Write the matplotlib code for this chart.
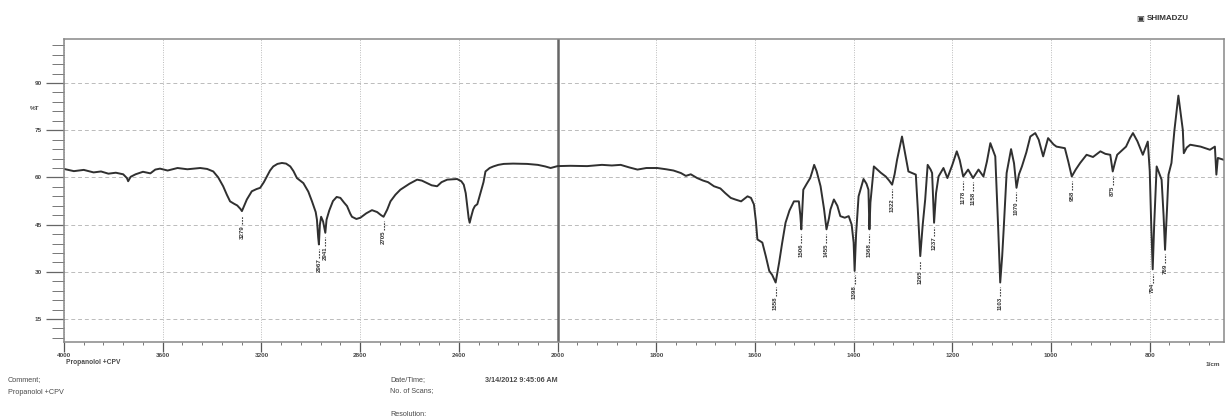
import numpy as np
import matplotlib.pyplot as plt

# FTIR spectrum (Shimadzu style), wavenumber in 1/cm, transmittance in %T
wavenumber = [
    4000, 3960, 3920, 3880, 3850, 3820, 3790, 3760, 3745, 3740, 3730, 3710,
    3680, 3650, 3630, 3611, 3580, 3540, 3500, 3448, 3420, 3395, 3375, 3355,
    3340, 3327, 3310, 3298, 3285, 3279, 3270, 3259, 3239, 3220, 3205, 3190,
    3178, 3165, 3152, 3135, 3117, 3100, 3083, 3070, 3056, 3030, 3010, 2995,
    2980, 2975, 2970, 2967, 2963, 2958, 2950, 2941, 2936, 2925, 2910, 2895,
    2880, 2865, 2853, 2840, 2833, 2815, 2799, 2775, 2752, 2731, 2715, 2705,
    2690, 2677, 2657, 2637, 2600, 2569, 2550, 2529, 2510, 2488, 2470, 2447,
    2407, 2390, 2380, 2372, 2366, 2360, 2356, 2350, 2342, 2335, 2325, 2312,
    2300, 2292, 2275, 2260, 2240, 2218, 2180, 2123, 2080, 2050, 2028, 2010,
    2000, 1974, 1940, 1910, 1890, 1872, 1855, 1838, 1820, 1798, 1780, 1765,
    1750, 1740, 1730, 1717, 1705, 1695, 1683, 1670, 1660, 1649, 1640, 1628,
    1615, 1608, 1602, 1598, 1595, 1585, 1578, 1571, 1565, 1558, 1551, 1545,
    1538, 1530, 1521, 1511, 1508, 1506, 1504, 1502, 1495, 1488, 1484, 1480,
    1475, 1467, 1460, 1455, 1450, 1447, 1440, 1433, 1427, 1418, 1410, 1404,
    1400, 1398, 1395, 1390, 1380, 1374, 1370, 1368, 1366, 1359, 1345, 1335,
    1328, 1322, 1317, 1312, 1302, 1295, 1289, 1274, 1270, 1265, 1260, 1255,
    1250, 1244, 1241, 1237, 1233, 1228, 1218, 1210, 1200, 1191, 1185, 1178,
    1168, 1158, 1147, 1137, 1130, 1123, 1113, 1107, 1103, 1099, 1096, 1090,
    1081, 1075, 1070, 1065, 1059, 1050, 1042, 1032, 1025, 1016, 1006, 995,
    989, 972, 965, 958, 950, 941, 928, 915, 900, 890, 880, 875,
    870, 866, 848, 840, 834, 825, 814, 804, 800, 797, 794, 791,
    786, 776, 772, 769, 765, 762, 756, 750, 742, 737, 733, 731,
    725, 718, 697, 678, 668, 665, 662, 650,
]
transmittance = [
    62.7, 62.0, 62.4, 61.6, 61.9, 61.2, 61.5, 61.0, 59.8, 58.8, 60.2, 61.0,
    61.8, 61.3, 62.5, 62.8, 62.2, 63.0, 62.6, 63.0, 62.7, 61.9, 60.0, 57.2,
    54.5, 52.4, 51.6, 51.1, 50.0, 49.3, 51.0, 53.0, 55.6, 56.3, 56.7, 58.5,
    60.3, 62.2, 63.5, 64.3, 64.6, 64.4, 63.5, 62.0, 59.8, 58.2, 55.5, 52.4,
    49.0, 46.6, 41.0, 38.7, 45.0, 47.5, 46.0, 42.4, 46.6, 49.5, 52.5, 53.8,
    53.5, 52.0, 50.9, 48.5, 47.5, 46.8, 47.2, 48.6, 49.6, 49.0, 48.0, 47.5,
    49.8, 52.4, 54.5, 56.1, 58.0, 59.3, 59.0, 58.2, 57.5, 57.2, 58.5, 59.3,
    59.5, 58.8, 57.7, 55.0, 50.9, 47.0, 45.6, 47.5, 49.8, 50.9, 51.5, 55.1,
    58.5, 61.9, 63.0, 63.5, 64.0, 64.3, 64.4, 64.3, 64.0, 63.5, 63.0, 63.4,
    63.6, 63.7, 63.6, 64.0, 63.8, 64.0, 63.2, 62.5, 63.0, 63.0, 62.6, 62.2,
    61.4, 60.5, 61.0, 59.8, 59.0, 58.5, 57.2, 56.5, 55.0, 53.5, 53.0, 52.4,
    54.0, 53.5, 51.4, 46.0, 40.3, 39.3, 35.0, 30.3, 29.0, 26.6, 32.9, 39.0,
    45.6, 49.5, 52.4, 52.4, 48.0, 43.5, 50.0, 56.1, 58.0, 59.8, 61.8, 64.0,
    62.0, 57.2, 50.0, 43.5, 47.0, 49.8, 53.0, 51.0, 47.7, 47.2, 47.7, 45.0,
    39.3, 30.3, 42.0, 54.0, 59.5, 58.0, 56.1, 43.5, 52.0, 63.5, 61.5, 60.3,
    59.0, 57.7, 61.0, 65.6, 73.0, 67.0, 61.9, 60.9, 50.0, 35.0, 45.0, 53.0,
    64.0, 62.5, 61.4, 45.6, 55.0, 60.3, 63.0, 59.8, 64.0, 68.3, 65.5, 60.3,
    62.5, 59.8, 62.5, 60.3, 65.0, 70.9, 66.7, 43.5, 26.6, 35.0, 43.5, 61.4,
    69.0, 64.5, 56.7, 61.0, 63.5, 68.0, 73.0, 74.1, 72.0, 66.7, 72.5, 70.5,
    69.8, 69.3, 65.0, 60.3, 62.5, 64.6, 67.2, 66.5, 68.3, 67.5, 67.2, 61.9,
    65.0, 67.2, 69.8, 72.5, 74.1, 71.5, 67.2, 71.4, 62.0, 45.0, 30.8, 45.0,
    63.5, 59.3, 48.0, 37.0, 50.0, 60.9, 64.6, 75.0, 86.0, 80.0, 75.1, 67.7,
    69.5, 70.4, 69.8, 68.8, 69.8, 60.9, 66.2, 65.6,
]

# labelled peaks
peak_wn = [3279, 2967, 2941, 2705, 1558, 1506, 1455, 1398, 1368, 1322, 1265,
           1237, 1178, 1158, 1103, 1070, 958, 875, 794, 769]
peak_t = [49.3, 38.7, 42.4, 47.5, 26.6, 43.5, 43.5, 30.3, 43.5, 57.7, 35.0,
          45.6, 60.3, 59.8, 26.6, 56.7, 60.3, 61.9, 30.8, 37.0]

x_major = [4000, 3600, 3200, 2800, 2400, 2000, 1800, 1600, 1400, 1200, 1000, 800]
y_major = [15, 30, 45, 60, 75, 90]


# Shimadzu half-scale below 2000 1/cm
def fwd(w):
    w = np.asarray(w, dtype=float)
    return np.where(w >= 2000, w / 400.0, w / 200.0 - 5.0)


def inv(p):
    p = np.asarray(p, dtype=float)
    return np.where(p >= 5, p * 400.0, (p + 5.0) * 200.0)


fig = plt.figure(figsize=(12.25, 4.16), dpi=100)
ax = fig.add_axes([64 / 1225, 1 - 342 / 416, 1 - 64 / 1225 - 0.001, (342 - 39) / 416])
ax.set_xscale("function", functions=(fwd, inv))
ax.set_xlim(4000, 650)
ax.set_ylim(7.7, 104)

txt = "#4a4a4a"
font = ["Liberation Sans", "DejaVu Sans"]

ax.plot(wavenumber, transmittance, color="#303030", lw=1.4)

# peak markers
for w, t in zip(peak_wn, peak_t):
    ax.vlines(w, t - 4.2, t - 1.4, colors="#444444", lw=0.8, linestyles=(0, (1.5, 1)))
    ax.text(w, t - 4.4, str(w), rotation=90, ha="center", va="top",
            fontsize=4.4, color="#333333", family=font, weight="bold")

ax.set_xticks(x_major)
ax.set_xticklabels([str(v) for v in x_major])
ax.set_xticks(list(np.arange(2080, 4000, 80)) + list(np.arange(680, 2000, 40)), minor=True)
ax.set_yticks(y_major)
ax.set_yticks(np.arange(9, 104, 3), minor=True)

ax.tick_params(axis="x", which="major", direction="out", length=7, width=0.9,
               color="#555555", labelsize=4.6, labelcolor=txt, pad=1)
ax.tick_params(axis="x", which="minor", direction="out", length=2.5, width=0.7,
               color="#777777")
ax.tick_params(axis="y", which="major", direction="out", length=13, width=0.9,
               color="#666666", labelsize=4.6, labelcolor=txt, pad=3)
ax.tick_params(axis="y", which="minor", direction="out", length=8.5, width=0.7,
               color="#777777")
for lab in ax.get_xticklabels() + ax.get_yticklabels():
    lab.set_family(font)
    lab.set_weight("bold")

for v in y_major:
    ax.axhline(v, color="#bbbbbb", lw=0.7, ls=(0, (4, 3)), zorder=0)
for v in x_major:
    if v == 2000:
        ax.axvline(v, color="#666666", lw=1.8, zorder=0)
    else:
        ax.axvline(v, color="#bbbbbb", lw=0.7, ls=(0, (1, 1.5)), zorder=0)

for s in ax.spines.values():
    s.set_color("#888888")
    s.set_linewidth(1.1)

# surrounding report text
fig.text(35 / 1225, 1 - 108 / 416, "%T", fontsize=4.6, color=txt, family=font,
         ha="center", va="center", weight="bold")
fig.text(1213 / 1225, 1 - 364 / 416, "1/cm", fontsize=4.6, color=txt, family=font,
         ha="center", va="center", weight="bold")
fig.text(66 / 1225, 1 - 362 / 416, "Propanolol +CPV", fontsize=4.8, color=txt,
         family=font, va="center", weight="bold")
fig.text(8 / 1225, 1 - 380 / 416, "Comment;", fontsize=5.2, color=txt, family=font,
         va="center")
fig.text(8 / 1225, 1 - 393 / 416, "Propanolol +CPV", fontsize=5.2, color=txt,
         family=font, va="center")
fig.text(390 / 1225, 1 - 380 / 416, "Date/Time;", fontsize=5.2, color=txt,
         family=font, va="center")
fig.text(485 / 1225, 1 - 380 / 416, "3/14/2012 9:45:06 AM", fontsize=5.2,
         color=txt, family=font, va="center", weight="bold")
fig.text(390 / 1225, 1 - 391 / 416, "No. of Scans;", fontsize=5.2, color=txt,
         family=font, va="center")
fig.text(390 / 1225, 1 - 414 / 416, "Resolution;", fontsize=5.2, color=txt,
         family=font, va="center")
fig.text(1136 / 1225, 1 - 18 / 416, "\u25a3", fontsize=6, color="#333333",
         family=["DejaVu Sans"], va="center")
fig.text(1147 / 1225, 1 - 18 / 416, "SHIMADZU", fontsize=5.8, color="#333333",
         family=font, weight="bold", va="center")

fig.savefig("out.png", dpi=100)
